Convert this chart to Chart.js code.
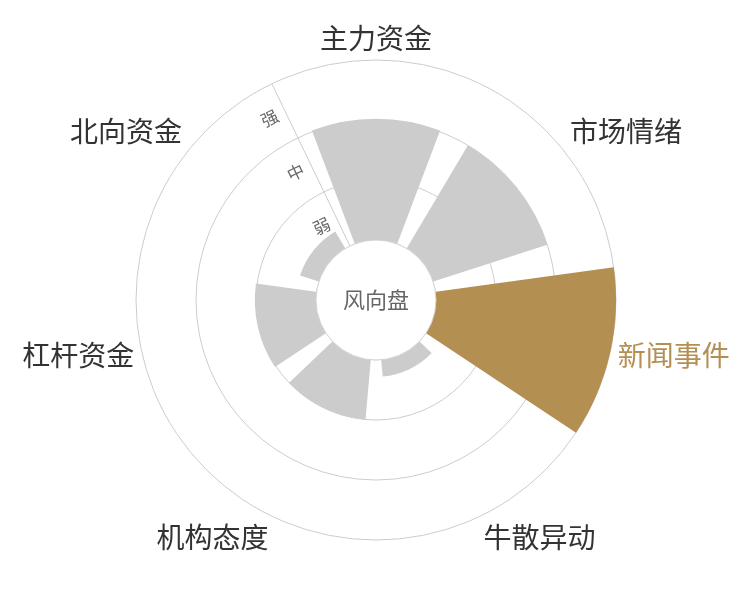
<!DOCTYPE html>
<html>
<head>
<meta charset="utf-8">
<script src="https://cdn.jsdelivr.net/npm/chart.js@4"></script>
<style>
  html, body { margin: 0; padding: 0; background: #fff; }
  #wrap { width: 750px; height: 600px; position: relative; }
</style>
</head>
<body>
<div id="wrap"><canvas id="windChart"></canvas></div>
<script>
// Categories around the dial, clockwise from the top
const categories = ['主力资金', '市场情绪', '新闻事件', '牛散异动', '机构态度', '杠杆资金', '北向资金'];
// Strength (0 = hole edge, 1 = 弱, 2 = 中, 3 = 强)
const strength = [2.02, 2.0, 3.0, 0.28, 1.0, 1.02, 0.33];
// Ring labels, inner to outer
const levelLabels = ['弱', '中', '强'];
const highlighted = '新闻事件';
const centerTitle = '风向盘';

const FONT = '"Noto Sans CJK SC", "Noto Sans", sans-serif';
const GRAY = '#cccccc';
const GOLD = '#b48f52';
const GAP = 10 * Math.PI / 180;   // angular gap between wedges
const sector = 360 / categories.length;

// shrink each wedge so there is a gap between neighbours
const gapPlugin = {
  id: 'gap',
  afterDatasetsUpdate(chart) {
    chart.getDatasetMeta(0).data.forEach(arc => {
      arc.startAngle += GAP / 2;
      arc.endAngle -= GAP / 2;
      if (arc.circumference !== undefined) arc.circumference = arc.endAngle - arc.startAngle;
    });
  }
};

// center hole, ring labels and category labels
const decoPlugin = {
  id: 'deco',
  afterDatasetsDraw(chart) {
    const ctx = chart.ctx;
    const r = chart.scales.r;
    const cx = r.xCenter, cy = r.yCenter;
    const hole = r.getDistanceFromCenterForValue(0);

    ctx.save();
    // hole
    ctx.beginPath();
    ctx.arc(cx, cy, hole, 0, Math.PI * 2);
    ctx.fillStyle = '#fff';
    ctx.fill();
    ctx.strokeStyle = '#d4d4d4';
    ctx.lineWidth = 1;
    ctx.stroke();
    ctx.fillStyle = '#666';
    ctx.font = '22px ' + FONT;
    ctx.textAlign = 'center';
    ctx.textBaseline = 'middle';
    ctx.fillText(centerTitle, cx, cy);

    // ring labels beside the axis line
    const axisAngle = -sector / 2 * Math.PI / 180;
    ctx.save();
    ctx.translate(cx, cy);
    ctx.rotate(axisAngle);
    ctx.font = '17px ' + FONT;
    ctx.fillStyle = '#666';
    levelLabels.forEach((t, i) => {
      const d = (r.getDistanceFromCenterForValue(i) + r.getDistanceFromCenterForValue(i + 1)) / 2;
      ctx.fillText(t, -17, -d);
    });
    ctx.restore();

    // category labels outside the dial
    const outer = r.drawingArea + 8;
    ctx.font = '28px ' + FONT;
    categories.forEach((name, i) => {
      const a = (i * sector) * Math.PI / 180;
      const x = cx + outer * Math.sin(a);
      const y = cy - outer * Math.cos(a);
      const dx = (x - cx) / outer, dy = (y - cy) / outer;
      ctx.textAlign = Math.abs(dx) < 0.3 ? 'center' : (dx > 0 ? 'left' : 'right');
      ctx.textBaseline = Math.abs(dy) < 0.3 ? 'middle' : (dy > 0 ? 'top' : 'bottom');
      ctx.fillStyle = name === highlighted ? GOLD : '#333';
      ctx.fillText(name, x, y);
    });
    ctx.restore();
  }
};

new Chart(document.getElementById('windChart'), {
  type: 'polarArea',
  data: {
    labels: categories,
    datasets: [{
      data: strength,
      backgroundColor: categories.map(c => c === highlighted ? GOLD : GRAY),
      borderWidth: 0
    }]
  },
  options: {
    responsive: true,
    maintainAspectRatio: false,
    animation: false,
    layout: { padding: { top: 60, bottom: 60, left: 3, right: 0 } },
    plugins: {
      legend: { display: false },
      tooltip: { enabled: false }
    },
    scales: {
      r: {
        min: -1,
        max: 3,
        startAngle: -sector / 2,
        ticks: { display: false, stepSize: 1 },
        grid: { circular: true, color: '#cccccc', lineWidth: 1 },
        angleLines: {
          display: true,
          color: ctx => ctx.index === 0 ? '#cccccc' : 'rgba(0,0,0,0)',
          lineWidth: 1
        },
        pointLabels: { display: false }
      }
    }
  },
  plugins: [gapPlugin, decoPlugin]
});
</script>
</body>
</html>
